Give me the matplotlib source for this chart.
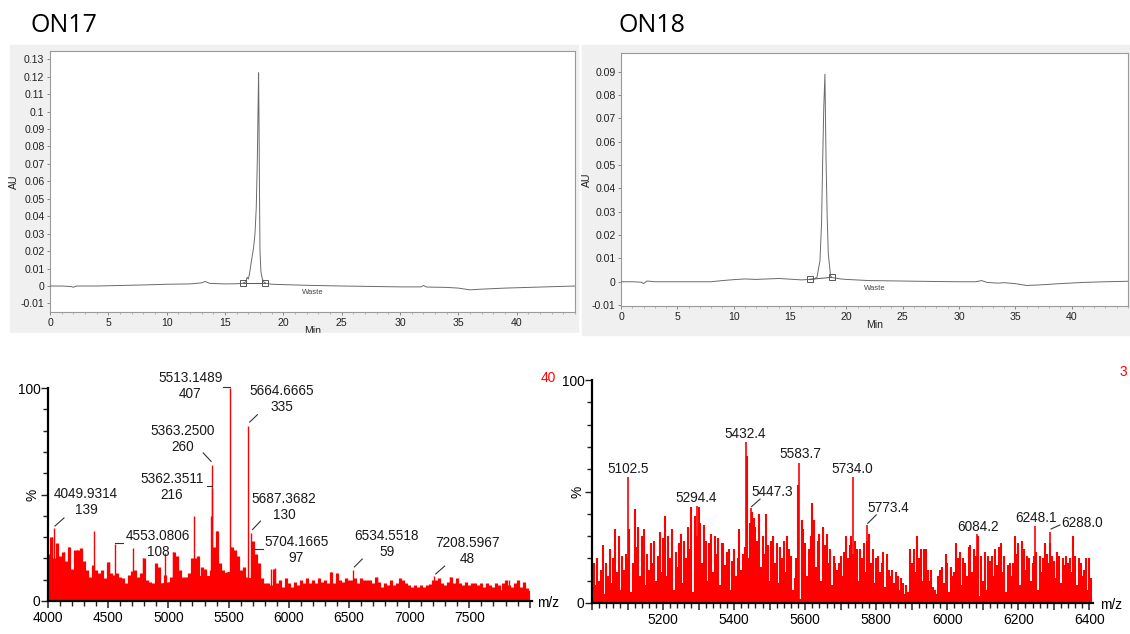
#!/usr/bin/env python

import numpy as np
import matplotlib as mpl
import matplotlib.pyplot as plt
from matplotlib.patches import Rectangle

mpl.rc('font', family='Liberation Sans')

W, H = 1130, 634

# --- HPLC traces (time / min, absorbance / AU) ---
on17_t = [0, 1, 1.8, 2.0, 2.3, 4, 6, 8, 10, 12, 13.0, 13.3, 13.7, 15, 16, 16.5,
          16.8, 16.9, 17.0, 17.1, 17.28, 17.45, 17.57, 17.68, 17.77, 17.84,
          17.88, 17.92, 17.96, 18.0, 18.08, 18.2, 18.35, 18.5, 19, 20, 22, 25,
          28, 30, 31.8, 32.0, 32.3, 34, 35, 36, 37, 39, 41, 43, 45]
on17_au = [0, 0, -0.0003, -0.0007, 0, 0, 0.0003, 0.0006, 0.001, 0.0012,
           0.0018, 0.0026, 0.0015, 0.0012, 0.0013, 0.0015, 0.0025, 0.005,
           0.004, 0.007, 0.015, 0.022, 0.03, 0.045, 0.072, 0.105, 0.1222,
           0.09, 0.05, 0.02, 0.008, 0.004, 0.0022, 0.0016, 0.001, 0.0008,
           0.0004, 0, -0.0003, -0.0005, -0.0005, 0.0003, -0.0006, -0.0008,
           -0.0012, -0.0022, -0.0018, -0.0012, -0.0008, -0.0004, 0.0]
on17_marks_t = [16.5, 18.45]
on17_marks_au = [0.0015, 0.0015]

on18_t = [0, 1, 1.8, 2.0, 2.3, 3, 5, 8, 9, 10, 11, 12, 14, 15, 16, 16.75, 17.2,
          17.4, 17.66, 17.8, 17.9, 18.0, 18.1, 18.2, 18.3, 18.4, 18.6, 18.7,
          19.5, 20, 22, 25, 28, 30, 31.5, 32, 32.5, 33.5, 34, 35, 36, 37, 39,
          41, 43, 45]
on18_au = [0, 0, -0.0002, -0.0008, 0.0003, 0, 0, 0, 0.0005, 0.0009, 0.0012,
           0.001, 0.0014, 0.0011, 0.0008, 0.001, 0.0013, 0.002, 0.009, 0.025,
           0.052, 0.075, 0.089, 0.052, 0.028, 0.012, 0.0025, 0.0018, 0.0012,
           0.001, 0.0005, 0.0003, 0.0001, 0, 0, 0.0005, -0.0003, -0.0006,
           -0.0004, -0.0008, -0.0016, -0.0014, -0.0008, -0.0003, 0, 0.0002]
on18_marks_t = [16.75, 18.7]
on18_marks_au = [0.001, 0.0019]

# --- MS ON17 (m/z, % intensity) ---
ms17_grid = np.arange(4000, 8000, 25)
ms17_pct = [
    22, 30, 20, 27, 21, 23, 19, 25.5, 15, 24, 24, 25, 19, 14.5, 11.5, 17, 14.5, 13, 14.5, 11,
    18.5, 13, 12, 13, 11.5, 10.6, 8.3, 12, 14, 14.5, 11.5, 13, 20, 10, 9, 8.3, 17.7, 16, 8.3, 12,
    6.7, 11.5, 23, 21, 14.5, 11.5, 11.5, 13, 20, 20, 21, 16, 15, 11.5, 14.5, 25.5, 33, 17.7, 14.5, 13,
    9, 25.5, 24, 21, 14.5, 16, 11.5, 10.6, 28, 22, 17.7, 10.6, 8.3, 8.3, 7.5, 15, 8.3, 10, 6.7, 10.6,
    8.3, 6.7, 9, 7.5, 10, 8.3, 10.6, 8.3, 10, 8.3, 10.6, 9, 10, 8.3, 13.8, 8.3, 13, 10, 9, 10.6,
    10, 10, 10.6, 8.3, 10.6, 10, 10, 10, 8.3, 11.4, 9, 6.7, 8.3, 7.5, 10, 7.5, 8.3, 10.6, 10, 8.3,
    7.5, 6.7, 7.5, 6.7, 7.5, 6.7, 7.5, 8, 10, 10, 10.6, 8.3, 7.5, 9, 11.4, 8.3, 10.6, 8.3, 7.5, 9,
    7.5, 8.3, 8.3, 7.5, 8.3, 6.7, 8.3, 7.5, 6.7, 8.3, 7.5, 8.3, 10, 7.5, 6.7, 8.3, 10, 6.7, 9, 6,
]
ms17_floor_mz = np.arange(4000, 8001, 100)
ms17_floor = [17, 16, 14, 12, 10, 9, 8, 8, 7, 8, 9, 10, 12, 12, 12, 14, 11, 11, 6, 6,
              5.5, 6, 6, 6, 6, 6.5, 6, 6, 5.5, 6, 5.5, 5.5, 5, 5.5, 5.5, 5, 5.5,
              5, 5.5, 5, 5]
ms17_spike_mz = [4030, 4133, 4171, 4238, 4382, 4506, 4708, 4791, 4971, 5040,
                 5211, 5353, 5400, 5524, 5856, 5884, 6354, 6733, 7341, 7833]
ms17_spike_pct = [30, 23, 25.5, 24, 33, 18.5, 25, 20, 22.4, 23,
                  40, 40, 33, 25.5, 15, 15.3, 13.8, 11.4, 11.4, 10]
ms17_peak_mz = [4049.9314, 4553.0806, 5362.3511, 5363.2500, 5513.1489,
                5664.6665, 5687.3682, 5704.1665, 6534.5518, 7208.5967]
ms17_peak_int = [139, 108, 216, 260, 407, 335, 130, 97, 59, 48]
ms17_lab_mz = [4315, 4913, 5029, 5121, 5183, 5943, 5960, 6062, 6813, 7482]
ms17_lab_pct = [50.2, 30.5, 57.3, 79.8, 104.7, 98.6, 47.9, 27.7, 30.5, 27.2]
ms17_leaders = [
    [(4058, 35.2), (4133, 39)],
    [(4560, 27), (4625, 27)],
    [(5318, 54), (5360, 54)],
    [(5355, 65.5), (5290, 69.5)],
    [(5455, 100.6), (5510, 100.6)],
    [(5675, 84), (5740, 87.5)],
    [(5698, 33.5), (5765, 37.5)],
    [(5712, 24.5), (5782, 24.5)],
    [(6545, 16), (6610, 19.7)],
    [(7220, 12.7), (7295, 16.4)],
]

# --- MS ON18 ---
ms18_grid = np.arange(5000, 6406, 5)
ms18_pct = [
    12, 18, 8, 20, 10, 15, 26, 4, 18, 12, 24, 9, 20, 33, 14, 30, 6, 21, 15, 22,
    20, 33, 5, 18, 42, 25, 34, 12, 30, 33, 8, 22, 15, 27, 18, 28, 10, 21, 32, 14,
    29, 39, 12, 30, 20, 33, 6, 23, 16, 27, 31, 9, 28, 20, 34, 24, 43, 5, 39, 30,
    43, 36, 18, 35, 28, 10, 27, 31, 14, 30, 22, 29, 8, 27, 27, 17, 23, 24, 6, 19,
    24, 12, 20, 33, 15, 22, 25, 66, 20, 36, 41, 38, 34, 28, 40, 16, 30, 22, 40, 26,
    10, 28, 30, 18, 27, 9, 25, 20, 28, 14, 30, 24, 21, 6, 11, 20, 53, 2, 37, 33,
    27, 12, 24, 30, 45, 37, 16, 28, 31, 10, 34, 26, 31, 18, 24, 8, 21, 18, 15, 18,
    21, 12, 23, 30, 20, 26, 30, 22, 28, 24, 10, 24, 20, 27, 14, 28, 31, 18, 24, 9,
    20, 21, 14, 18, 23, 7, 22, 15, 12, 15, 9, 14, 12, 6, 11, 9, 4, 8, 5, 24,
    18, 24, 14, 30, 20, 24, 10, 24, 24, 15, 10, 15, 7, 6, 4, 12, 15, 16, 9, 22,
    18, 5, 16, 12, 14, 27, 20, 23, 8, 20, 18, 12, 25, 26, 14, 24, 21, 30, 3, 21,
    10, 23, 6, 21, 19, 21, 12, 24, 17, 25, 27, 14, 21, 5, 17, 18, 12, 18, 30, 22,
    27, 8, 28, 24, 15, 21, 20, 10, 18, 21, 23, 6, 21, 14, 20, 27, 22, 18, 27, 21,
    19, 11, 23, 21, 9, 20, 17, 21, 18, 20, 14, 30, 21, 8, 20, 18, 12, 15, 20, 6, 20, 11,
]
ms18_peak_mz = [5102.5, 5294.4, 5432.4, 5447.3, 5583.7, 5734.0, 5773.4,
                6084.2, 6248.1, 6288.0]
ms18_peak_pct = [56.5, 43.5, 72, 42.5, 63, 56.5, 35, 31, 34.5, 32]
ms18_lab_mz = [5103, 5292, 5430, 5508, 5585, 5732, 5834, 6086, 6250, 6379]
ms18_lab_pct = [60.1, 47.2, 75.8, 49.9, 67, 60.1, 42.7, 34.1, 38.1, 35.9]
ms18_leaders = [
    [(5449, 43.2), (5473, 46.6)],
    [(5776, 35.7), (5800, 39.5)],
    [(6292, 33.2), (6317, 35)],
]


def frame(x0, y0, x1, y1):
    return [x0 / W, 1 - y1 / H, (x1 - x0) / W, (y1 - y0) / H]


def chrom(fig, box, t, au, mt, mau, ylim, yticks, ylabs, waste_y, min_y):
    ax = fig.add_axes(frame(*box))
    ax.plot(t, au, color='#6a6a6a', lw=0.7, zorder=3)
    ax.plot(mt, mau, ls='none', marker='s', ms=5, mfc='none', mec='#555555',
            mew=0.7, zorder=4)
    ax.plot(mt, mau, color='#555555', lw=0.7, zorder=3)
    ax.text(22.5, waste_y, 'Waste', fontsize=5.5, color='#444444',
            ha='center', va='center')
    ax.set_xlim(0, 45)
    ax.set_ylim(*ylim)
    ax.set_xticks(range(0, 45, 5))
    ax.set_xticks(range(0, 46, 1), minor=True)
    ax.set_yticks(yticks)
    ax.set_yticklabels(ylabs)
    ax.tick_params(labelsize=7.6, length=2.5, width=0.6, color='#777777',
                   labelcolor='#222222', pad=1.5)
    ax.tick_params(which='minor', length=1.5, width=0.5, color='#999999')
    for s in ax.spines.values():
        s.set_color('#9a9a9a')
        s.set_linewidth(0.8)
    ax.text(-0.068, 0.5, 'AU', transform=ax.transAxes, rotation=90,
            fontsize=7.6, color='#222222', ha='center', va='center')
    ax.text(0.5, min_y, 'Min', transform=ax.transAxes, fontsize=7.6,
            color='#222222', ha='center', va='center')
    return ax


def ms_axes(fig, box, xlim, major, minor, labelled):
    ax = fig.add_axes(frame(*box))
    ax.set_xlim(*xlim)
    ax.set_ylim(0, 100)
    for s in ['top', 'right']:
        ax.spines[s].set_visible(False)
    for s in ['left', 'bottom']:
        ax.spines[s].set_linewidth(1.6)
        ax.spines[s].set_color('black')
    ax.set_xticks(major)
    ax.set_xticklabels([str(v) if v in labelled else '' for v in major])
    ax.set_xticks(minor, minor=True)
    ax.set_yticks([0, 50, 100])
    ax.set_yticklabels(['0', '', '100'])
    ax.set_yticks(range(0, 101, 10), minor=True)
    ax.tick_params(axis='x', which='major', length=5, width=1.1, labelsize=9.9,
                   pad=2.5, color='#222222')
    ax.tick_params(axis='x', which='minor', length=3.5, width=1.0,
                   color='#222222')
    ax.tick_params(axis='y', which='major', length=5, width=1.0, labelsize=9.9,
                   pad=0.5, color='#222222')
    ax.tick_params(axis='y', which='minor', length=3.4, width=1.0,
                   color='#222222')
    return ax


def main() -> None:
    fig = plt.figure(figsize=(W / 100, H / 100), dpi=100)

    # screenshot backgrounds of the chromatograms
    for x0, y0, x1, y1 in [(10, 45, 578, 333), (582, 45, 1130, 335)]:
        fig.patches.append(Rectangle((x0 / W, 1 - y1 / H), (x1 - x0) / W,
                                     (y1 - y0) / H, transform=fig.transFigure,
                                     color='#f0f0f0', zorder=-5))

    c17 = chrom(fig, (50, 51, 575, 312), on17_t, on17_au, on17_marks_t,
                on17_marks_au, (-0.0149, 0.1347),
                np.round(np.arange(-0.01, 0.131, 0.01), 2),
                ['-0.01', '0', '0.01', '0.02', '0.03', '0.04', '0.05', '0.06',
                 '0.07', '0.08', '0.09', '0.1', '0.11', '0.12', '0.13'],
                -0.004, -0.074)
    c18 = chrom(fig, (621, 52.7, 1128, 306), on18_t, on18_au, on18_marks_t,
                on18_marks_au, (-0.0104, 0.0982),
                np.round(np.arange(-0.01, 0.091, 0.01), 2),
                ['-0.01', '0', '0.01', '0.02', '0.03', '0.04', '0.05', '0.06',
                 '0.07', '0.08', '0.09'],
                -0.0027, -0.075)
    c17.set_zorder(1)
    c18.set_zorder(1)

    # left "Min" is cut off by the screenshot border
    fig.patches.append(Rectangle((0, 1 - 352 / H), 580 / W, 19 / H,
                                 transform=fig.transFigure, color='white',
                                 zorder=5))

    fig.text(30 / W, 1 - 32 / H, 'ON17', fontsize=18, family='Open Sans',
             va='baseline', ha='left')
    fig.text(619 / W, 1 - 32 / H, 'ON18', fontsize=18, family='Open Sans',
             va='baseline', ha='left')

    # ---- ON17 mass spectrum ----
    ax = ms_axes(fig, (48, 388, 532, 601), (4000, 8020),
                 list(range(4000, 8001, 500)), list(range(4000, 8001, 100)),
                 list(range(4000, 7501, 500)))
    ax.fill_between(ms17_floor_mz, 0, ms17_floor, color='red', lw=0, zorder=2)
    ax.vlines(ms17_grid, 0, ms17_pct, color='red', lw=2.3, zorder=2)
    ax.vlines(ms17_spike_mz, 0, ms17_spike_pct, color='red', lw=1.0, zorder=2)
    peak_pct = [100 * v / max(ms17_peak_int) for v in ms17_peak_int]
    ax.vlines(ms17_peak_mz, 0, peak_pct, color='red', lw=1.0, zorder=2)
    for mz, p, inten, lx, lp, ld in zip(ms17_peak_mz, peak_pct, ms17_peak_int,
                                        ms17_lab_mz, ms17_lab_pct, ms17_leaders):
        ax.text(lx, lp, f'{mz:.4f}', fontsize=9.8, color='#1a1a1a',
                ha='center', va='center', clip_on=False)
        ax.text(lx, lp - 7.5, f'{inten}', fontsize=9.8, color='#1a1a1a',
                ha='center', va='center', clip_on=False)
        ax.plot([ld[0][0], ld[1][0]], [ld[0][1], ld[1][1]], color='#333333',
                lw=0.8, clip_on=False)
    ax.text(-0.031, 0.5, '%', transform=ax.transAxes, rotation=90,
            fontsize=9.9, ha='center', va='center')
    fig.text(548 / W, 1 - 603 / H, 'm/z', fontsize=9.9, ha='center',
             va='center')
    fig.text(541 / W, 1 - 378 / H, '40', fontsize=9.9, color='red',
             ha='left', va='center')

    # ---- ON18 mass spectrum ----
    ax = ms_axes(fig, (592, 380, 1093, 603), (5000, 6410),
                 list(range(5000, 6401, 100)), list(range(5000, 6411, 20)),
                 list(range(5200, 6401, 200)))
    ax.vlines(ms18_grid, 0, ms18_pct, color='red', lw=1.5, zorder=2)
    ax.vlines(ms18_peak_mz, 0, ms18_peak_pct, color='red', lw=1.2, zorder=2)
    for mz, lx, lp in zip(ms18_peak_mz, ms18_lab_mz, ms18_lab_pct):
        ax.text(lx, lp, f'{mz:.1f}', fontsize=9.8, color='#1a1a1a',
                ha='center', va='center', clip_on=False)
    for ld in ms18_leaders:
        ax.plot([ld[0][0], ld[1][0]], [ld[0][1], ld[1][1]], color='#333333',
                lw=0.8, clip_on=False)
    ax.text(-0.028, 0.5, '%', transform=ax.transAxes, rotation=90,
            fontsize=9.9, ha='center', va='center')
    fig.text(1111 / W, 1 - 605 / H, 'm/z', fontsize=9.9, ha='center',
             va='center')
    fig.text(1120 / W, 1 - 372 / H, '3', fontsize=9.9, color='red',
             ha='left', va='center')

    fig.savefig('out.png', dpi=100)


if __name__ == '__main__':
    main()
